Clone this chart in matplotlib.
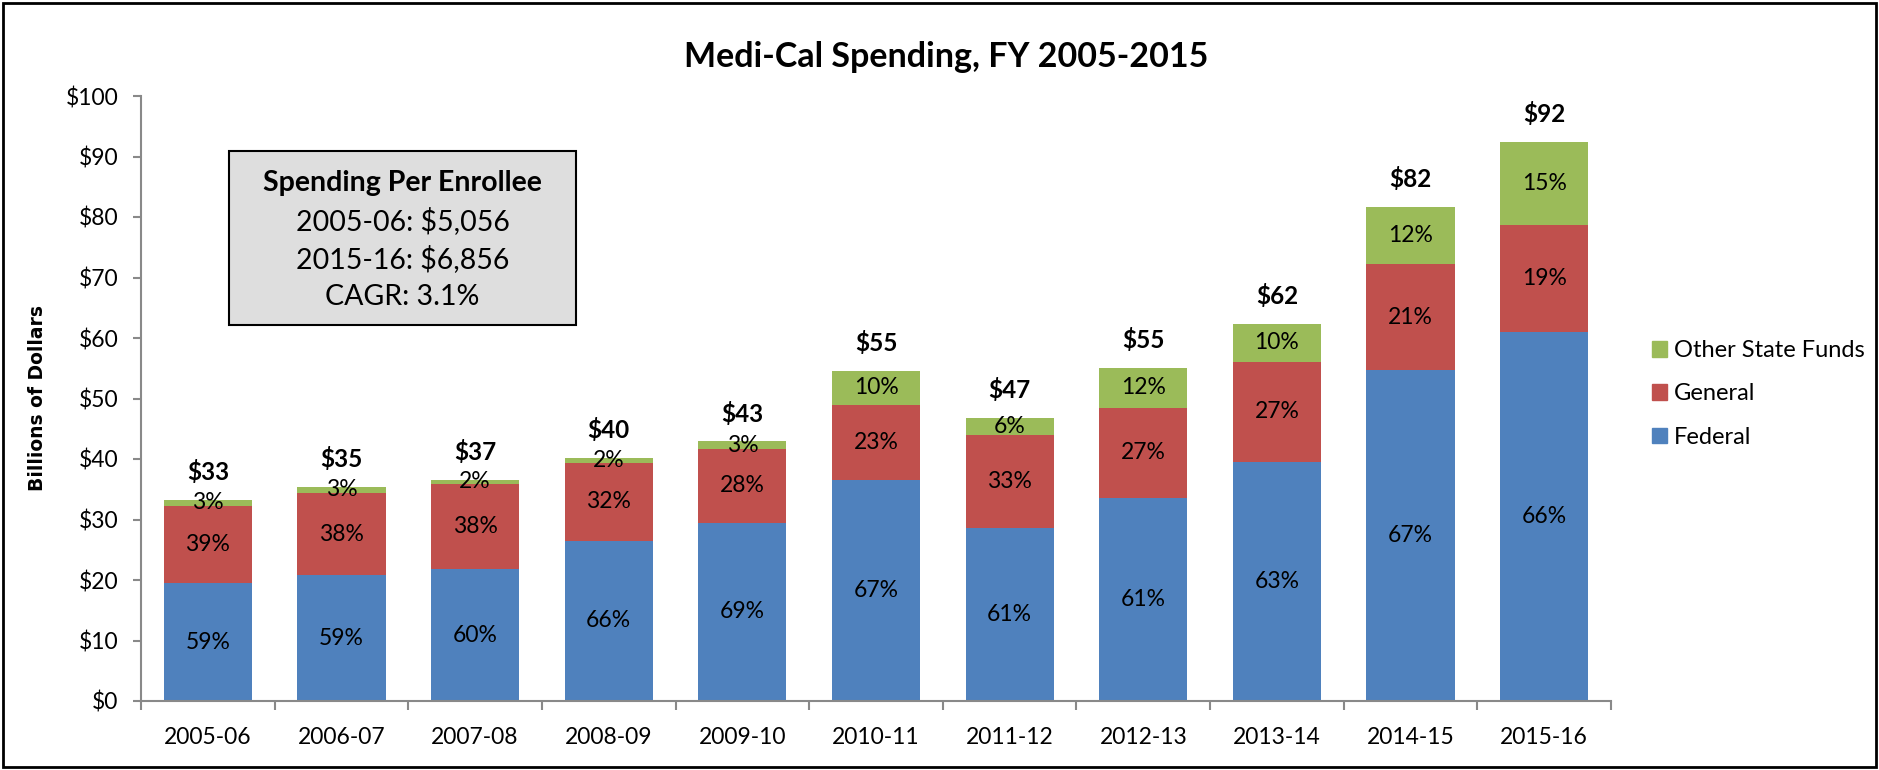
import matplotlib
matplotlib.use('Agg')
import matplotlib.pyplot as plt
from matplotlib.patches import Rectangle, Patch
import numpy as np

plt.rcParams['font.family'] = ['Lato', 'DejaVu Sans']

# data (billions of dollars)
years = ['2005-06', '2006-07', '2007-08', '2008-09', '2009-10', '2010-11',
         '2011-12', '2012-13', '2013-14', '2014-15', '2015-16']
federal = [19.5, 20.8, 21.8, 26.5, 29.5, 36.5, 28.6, 33.6, 39.5, 54.7, 61.0]
general = [12.8, 13.6, 14.1, 12.8, 12.1, 12.4, 15.4, 14.9, 16.6, 17.5, 17.7]
other = [0.9, 1.0, 0.7, 0.9, 1.3, 5.7, 2.8, 6.5, 6.2, 9.5, 13.7]
fed_pct = [59, 59, 60, 66, 69, 67, 61, 61, 63, 67, 66]
gen_pct = [39, 38, 38, 32, 28, 23, 33, 27, 27, 21, 19]
oth_pct = [3, 3, 2, 2, 3, 10, 6, 12, 10, 12, 15]
totals = [33, 35, 37, 40, 43, 55, 47, 55, 62, 82, 92]
yticks = [0, 10, 20, 30, 40, 50, 60, 70, 80, 90, 100]
box_lines = ['2005-06: $5,056', '2015-16: $6,856', 'CAGR: 3.1%']

c_fed = '#4F81BD'
c_gen = '#C0504D'
c_oth = '#9BBB59'
gray = '#898989'

W, H = 1879, 770
fig = plt.figure(figsize=(W / 100, H / 100), dpi=100)
ax = fig.add_axes([141 / W, 1 - 701 / H, 1470 / W, 605 / H])

x = np.arange(len(years))
fed = np.array(federal)
gen = np.array(general)
oth = np.array(other)
bw = 0.66
ax.bar(x, fed, bw, color=c_fed, label='Federal')
ax.bar(x, gen, bw, bottom=fed, color=c_gen, label='General')
ax.bar(x, oth, bw, bottom=fed + gen, color=c_oth, label='Other State Funds')

fs = 16.5
for i in range(len(x)):
    ax.text(x[i], fed[i] / 2, f'{fed_pct[i]}%', ha='center', va='center', fontsize=fs)
    ax.text(x[i], fed[i] + gen[i] / 2, f'{gen_pct[i]}%', ha='center', va='center', fontsize=fs)
    ax.text(x[i], fed[i] + gen[i] + oth[i] / 2, f'{oth_pct[i]}%', ha='center', va='center', fontsize=fs)
    ax.annotate(f'\\${totals[i]}', (x[i], fed[i] + gen[i] + oth[i]), xytext=(0, 20),
                textcoords='offset points', ha='center', va='center', fontsize=17.5, fontweight='bold')

ax.set_xlim(-0.5, len(years) - 0.5)
ax.set_ylim(0, 100)
ax.set_yticks(yticks)
ax.set_yticklabels([f'\\${v}' for v in yticks], fontsize=fs)
ax.set_xticks(x)
ax.set_xticklabels(years, fontsize=fs)
ax.set_xticks(np.arange(-0.5, len(years)), minor=True)
ax.tick_params(axis='x', which='major', length=0, pad=19)
ax.tick_params(axis='x', which='minor', length=6.5, width=1.5, color=gray)
ax.tick_params(axis='y', length=5.5, width=1.5, color=gray, pad=11)
for s in ['top', 'right']:
    ax.spines[s].set_visible(False)
for s in ['left', 'bottom']:
    ax.spines[s].set_color(gray)
    ax.spines[s].set_linewidth(1.5)

fig.text(38 / W, 1 - 398 / H, 'Billions of Dollars', rotation=90, ha='center', va='center',
         fontsize=13.5, fontweight='bold', family='DejaVu Sans')
fig.text(946 / W, 1 - 57 / H, 'Medi-Cal Spending, FY 2005-2015', ha='center', va='center',
         fontsize=24.5, fontweight='bold')

# info box
fig.patches.append(Rectangle((229 / W, 1 - 325 / H), 347 / W, 174 / H, transform=fig.transFigure,
                             facecolor='#DEDEDE', edgecolor='black', linewidth=1.5))
bx = (229 + 347 / 2) / W
fig.text(bx, 1 - 183 / H, 'Spending Per Enrollee', ha='center', va='center', fontsize=20.5,
         fontweight='bold')
for k, line in enumerate(box_lines):
    fig.text(bx, 1 - (221 + 38 * k) / H, line.replace('$', '\\$'), ha='center', va='center',
             fontsize=20.5)

# legend
handles = [Patch(color=c_oth), Patch(color=c_gen), Patch(color=c_fed)]
fig.legend(handles, ['Other State Funds', 'General', 'Federal'], loc='center left',
           bbox_to_anchor=(1652 / W, 1 - 394 / H), frameon=False, fontsize=17,
           handlelength=0.64, handleheight=0.64, handletextpad=0.3, labelspacing=0.95,
           borderpad=0, borderaxespad=0)

# outer frame
fig.patches.append(Rectangle((3 / W, 3 / H), 1873 / W, 764 / H, transform=fig.transFigure,
                             fill=False, edgecolor='black', linewidth=2))

fig.savefig('out.png', dpi=100)
